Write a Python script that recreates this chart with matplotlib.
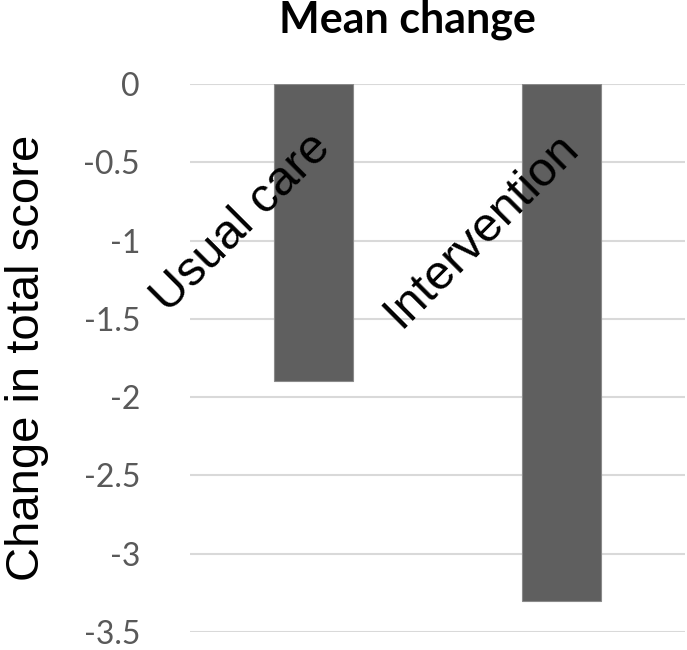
import matplotlib.pyplot as plt
from matplotlib.ticker import FixedLocator

# --- data ---
groups = ["Usual care", "Intervention"]
mean_change = [-1.9, -3.3]
yticks = [0, -0.5, -1, -1.5, -2, -2.5, -3, -3.5]
ytick_labels = ["0", "-0.5", "-1", "-1.5", "-2", "-2.5", "-3", "-3.5"]

fig = plt.figure(figsize=(6.87, 6.5), dpi=100)
ax = fig.add_axes([190 / 687, 1 - 632 / 650, 495 / 687, 548 / 650])

x = list(range(len(groups)))
ax.bar(x, mean_change, width=0.32, color="#5f5f5f", edgecolor="#8a8a8a",
       linewidth=0.8, zorder=2)

ax.set_xlim(-0.5, len(groups) - 0.5)
ax.set_ylim(-3.5, 0)
ax.yaxis.set_major_locator(FixedLocator(yticks))
ax.set_yticklabels(ytick_labels, family="Lato", fontsize=23, color="#595959")
ax.tick_params(axis="y", length=0, pad=36)
ax.set_xticks([])
ax.grid(axis="y", color="#d9d9d9", linewidth=1.5, zorder=0)
for s in ax.spines.values():
    s.set_visible(False)

# rotated category labels under the zero line
for xi, name in zip(x, groups):
    ax.text(xi + 0.04, -0.36, name, rotation=45, rotation_mode="anchor",
            ha="right", va="center", family="Liberation Sans", fontsize=35,
            color="black", zorder=3)

ax.set_ylabel("Change in total score", family="Liberation Sans", fontsize=34,
              color="black")
ax.yaxis.set_label_coords(-0.285, 0.5)

fig.text(407 / 687, 1 - 33 / 650, "Mean change", family="Lato",
         fontweight="bold", fontsize=31, ha="center", va="baseline")

fig.savefig("out.png", dpi=100)
